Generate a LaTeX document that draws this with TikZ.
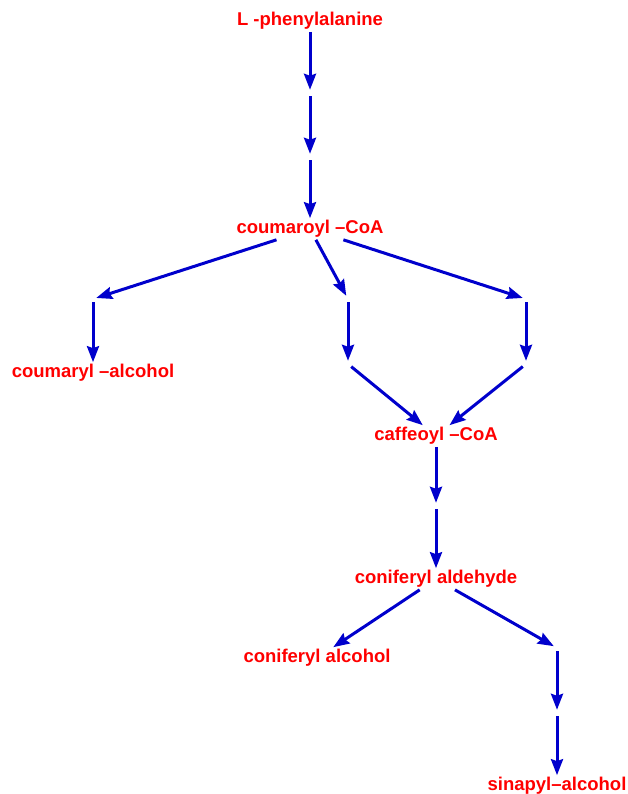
\documentclass[tikz,border=0pt]{standalone}
\usepackage{fontspec}
\setmainfont{Liberation Sans}
\usetikzlibrary{arrows.meta}
\definecolor{pathblue}{RGB}{0,0,204}
\tikzset{
    chem/.style={text=red,font=\bfseries\fontsize{18.5}{20}\selectfont,inner sep=2pt},
    hop/.style={inner sep=3pt},
    react/.style={pathblue,line width=3pt,-{Stealth[length=16pt,width=12pt,inset=2pt]}}
}
\begin{document}
\begin{tikzpicture}[x=1pt,y=-1pt]
    \useasboundingbox (0,0) rectangle (627,794);
    \node[chem] (phe) at (310,21) {L -phenylalanine};
    \node[hop] (h1) at (310,93) {};
    \node[hop] (h2) at (310,157) {};
    \node[chem] (cou) at (310,229) {coumaroyl \textendash CoA};
    \node[hop] (h3) at (93,299) {};
    \node[chem] (coual) at (93,373) {coumaryl \textendash alcohol};
    \node[hop] (h4) at (348,299) {};
    \node[hop] (h5) at (348,364) {};
    \node[hop] (h6) at (526,299) {};
    \node[hop] (h7) at (526,364) {};
    \node[chem] (caf) at (436,436) {caffeoyl \textendash CoA};
    \node[hop] (h8) at (436,506) {};
    \node[chem] (cald) at (436,579) {coniferyl aldehyde};
    \node[chem] (calc) at (317,658) {coniferyl alcohol};
    \node[hop] (h9) at (557,648) {};
    \node[hop] (h10) at (557,713) {};
    \node[chem] (sin) at (557,786) {sinapyl\textendash alcohol};
    \draw[react] (phe) -- (h1);
    \draw[react] (h1) -- (h2);
    \draw[react] (h2) -- (cou);
    \draw[react] (cou) -- (h3);
    \draw[react] (h3) -- (coual);
    \draw[react] (cou) -- (h4);
    \draw[react] (h4) -- (h5);
    \draw[react] (h5) -- (caf);
    \draw[react] (cou) -- (h6);
    \draw[react] (h6) -- (h7);
    \draw[react] (h7) -- (caf);
    \draw[react] (caf) -- (h8);
    \draw[react] (h8) -- (cald);
    \draw[react] (cald) -- (calc);
    \draw[react] (cald) -- (h9);
    \draw[react] (h9) -- (h10);
    \draw[react] (h10) -- (sin);
\end{tikzpicture}
\end{document}
